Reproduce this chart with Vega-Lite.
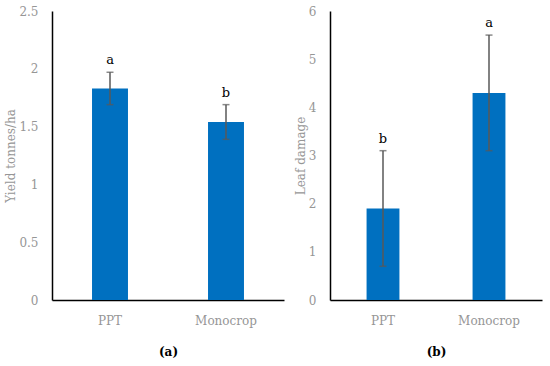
{
  "$schema": "https://vega.github.io/schema/vega-lite/v6.json",
  "background": "white",
  "padding": {"left": 4, "top": 5, "right": 5, "bottom": 5},
  "bounds": "flush",
  "spacing": 46,
  "config": {
    "view": {"stroke": null},
    "axis": {
      "grid": false,
      "ticks": false,
      "domainColor": "#000000",
      "domainWidth": 1.5,
      "labelFont": "DejaVu Serif",
      "labelFontSize": 12,
      "labelColor": "#969696",
      "titleFont": "DejaVu Serif",
      "titleFontSize": 12,
      "titleFontWeight": "normal",
      "titleColor": "#969696"
    }
  },
  "hconcat": [
    {
      "width": 232,
      "height": 289,
      "data": {"values": [
        {"treatment": "PPT", "mean": 1.83, "lower": 1.69, "upper": 1.97, "letter": "a"},
        {"treatment": "Monocrop", "mean": 1.54, "lower": 1.39, "upper": 1.69, "letter": "b"}
      ]},
      "encoding": {
        "x": {"field": "treatment", "type": "nominal", "sort": ["PPT", "Monocrop"],
          "scale": {"paddingInner": 0.69, "paddingOuter": 0.345},
          "axis": {"labelAngle": 0, "labelPadding": 15, "title": "(a)", "titleColor": "#000000", "titleFontWeight": "bold", "titlePadding": 20}}
      },
      "layer": [
        {"mark": {"type": "bar", "color": "#0070C0"},
         "encoding": {"y": {"field": "mean", "type": "quantitative",
           "scale": {"domain": [0, 2.5], "nice": false},
           "axis": {"values": [0, 0.5, 1, 1.5, 2, 2.5], "format": ".1~f", "labelPadding": 14, "title": "Yield tonnes/ha", "titlePadding": 1}}}},
        {"mark": {"type": "rule", "color": "#595959", "strokeWidth": 1.5},
         "encoding": {"y": {"field": "lower", "type": "quantitative"}, "y2": {"field": "upper"}}},
        {"mark": {"type": "tick", "color": "#595959", "thickness": 1.5, "size": 7, "orient": "horizontal"},
         "encoding": {"y": {"field": "upper", "type": "quantitative"}}},
        {"mark": {"type": "tick", "color": "#595959", "thickness": 1.5, "size": 7, "orient": "horizontal"},
         "encoding": {"y": {"field": "lower", "type": "quantitative"}}},
        {"mark": {"type": "text", "font": "DejaVu Serif", "fontSize": 13, "color": "#000000", "baseline": "alphabetic", "dy": -8},
         "encoding": {"y": {"field": "upper", "type": "quantitative"}, "text": {"field": "letter"}}}
      ]
    },
    {
      "width": 212,
      "height": 289,
      "data": {"values": [
        {"treatment": "PPT", "mean": 1.9, "lower": 0.7, "upper": 3.1, "letter": "b"},
        {"treatment": "Monocrop", "mean": 4.3, "lower": 3.1, "upper": 5.5, "letter": "a"}
      ]},
      "encoding": {
        "x": {"field": "treatment", "type": "nominal", "sort": ["PPT", "Monocrop"],
          "scale": {"paddingInner": 0.69, "paddingOuter": 0.345},
          "axis": {"labelAngle": 0, "labelPadding": 15, "title": "(b)", "titleColor": "#000000", "titleFontWeight": "bold", "titlePadding": 20}}
      },
      "layer": [
        {"mark": {"type": "bar", "color": "#0070C0"},
         "encoding": {"y": {"field": "mean", "type": "quantitative",
           "scale": {"domain": [0, 6], "nice": false},
           "axis": {"values": [0, 1, 2, 3, 4, 5, 6], "labelPadding": 14, "title": "Leaf damage", "titlePadding": 1}}}},
        {"mark": {"type": "rule", "color": "#595959", "strokeWidth": 1.5},
         "encoding": {"y": {"field": "lower", "type": "quantitative"}, "y2": {"field": "upper"}}},
        {"mark": {"type": "tick", "color": "#595959", "thickness": 1.5, "size": 7, "orient": "horizontal"},
         "encoding": {"y": {"field": "upper", "type": "quantitative"}}},
        {"mark": {"type": "tick", "color": "#595959", "thickness": 1.5, "size": 7, "orient": "horizontal"},
         "encoding": {"y": {"field": "lower", "type": "quantitative"}}},
        {"mark": {"type": "text", "font": "DejaVu Serif", "fontSize": 13, "color": "#000000", "baseline": "alphabetic", "dy": -8},
         "encoding": {"y": {"field": "upper", "type": "quantitative"}, "text": {"field": "letter"}}}
      ]
    }
  ]
}
